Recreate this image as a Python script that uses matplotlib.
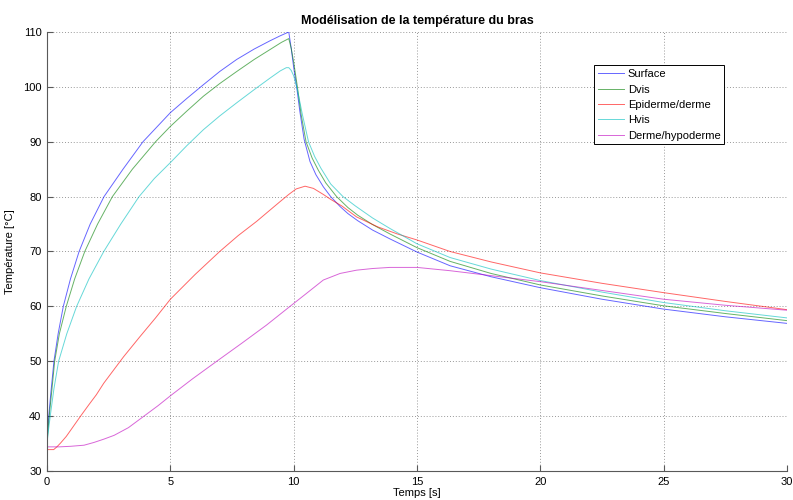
#!/usr/bin/env python3
"""
Modélisation de la température du bras - recreation of MATLAB-style figure
"""

import matplotlib
matplotlib.use("Agg")
import matplotlib.pyplot as plt

# values (time in s, temperature in degC)
t_surface = [0, 0.03, 0.07, 0.15, 0.28, 0.45, 0.66, 0.95, 1.3, 1.75, 2.31,
             3.08, 3.89, 5.0, 5.67, 6.34, 7.0, 7.69, 8.4, 9.04, 9.45, 9.8,
             9.9, 10.0, 10.12, 10.25, 10.42, 10.66, 10.9, 11.2, 11.5, 11.88,
             12.2, 12.6, 13.2, 13.9, 15.0, 16.34, 18.0, 20.0, 22.5, 25.0,
             27.5, 30.0]
T_surface = [35.0, 37.5, 40.0, 44.0, 50.0, 55.0, 60.0, 65.0, 70.0, 75.0, 80.0,
             85.0, 90.0, 95.3, 97.9, 100.4, 102.8, 105.0, 106.9, 108.4, 109.3,
             110.0, 107.0, 103.5, 100.0, 95.5, 90.5, 86.4, 84.0, 81.8, 80.0,
             78.2, 76.9, 75.6, 73.9, 72.3, 69.9, 67.4, 65.4, 63.4, 61.3, 59.5,
             58.1, 56.9]

t_dvis = [0, 0.04, 0.1, 0.18, 0.31, 0.5, 0.78, 1.12, 1.53, 2.05, 2.65, 3.46,
          4.4, 5.0, 5.67, 6.34, 7.0, 7.69, 8.4, 9.04, 9.5, 9.8, 9.9, 10.0,
          10.15, 10.3, 10.5, 10.75, 11.0, 11.3, 11.74, 12.2, 12.6, 13.2, 13.9,
          15.0, 16.34, 18.0, 20.0, 22.5, 25.0, 27.5, 30.0]
T_dvis = [35.0, 37.5, 40.5, 44.0, 50.0, 55.0, 60.0, 65.0, 70.0, 75.0, 80.0,
          85.0, 90.0, 92.8, 95.6, 98.3, 100.6, 102.8, 105.0, 106.8, 108.1,
          108.8, 107.0, 104.5, 100.0, 95.0, 90.0, 87.0, 84.8, 82.5, 80.0,
          78.0, 76.6, 74.9, 73.2, 70.7, 68.2, 66.0, 63.9, 61.9, 60.1, 58.7,
          57.4]

t_epi = [0, 0.27, 0.4, 0.55, 0.78, 1.0, 1.36, 1.7, 2.0, 2.3, 2.65, 3.1,
         3.77, 4.4, 5.0, 6.0, 7.0, 7.75, 8.5, 9.0, 9.45, 9.8, 10.1, 10.46,
         10.8, 11.2, 11.5, 11.95, 12.55, 13.4, 14.2, 15.0, 16.34, 18.0, 20.0,
         22.5, 25.0, 27.5, 30.0]
T_epi = [33.9, 33.9, 34.4, 35.1, 36.3, 37.7, 40.0, 42.1, 43.9, 46.0, 48.1,
         50.8, 54.5, 57.9, 61.3, 65.8, 70.0, 72.9, 75.5, 77.4, 79.1, 80.4,
         81.4, 81.9, 81.5, 80.4, 79.5, 78.3, 76.3, 74.5, 73.2, 72.1, 70.0,
         68.1, 66.1, 64.2, 62.5, 60.9, 59.4]

t_hvis = [0, 0.06, 0.13, 0.28, 0.47, 0.8, 1.2, 1.7, 2.3, 2.99, 3.73, 4.35,
          5.0, 5.67, 6.34, 7.0, 7.69, 8.4, 9.04, 9.45, 9.7, 9.8, 9.9, 10.0,
          10.15, 10.35, 10.6, 10.85, 11.1, 11.5, 12.0, 12.5, 13.2, 13.9, 15.0,
          16.34, 18.0, 20.0, 22.5, 25.0, 27.5, 30.0]
T_hvis = [35.0, 37.5, 40.0, 45.0, 50.0, 55.0, 60.0, 65.0, 70.0, 75.0, 80.0,
          83.3, 86.2, 89.3, 92.2, 94.7, 97.1, 99.5, 101.6, 102.9, 103.5, 103.5,
          103.0, 102.0, 99.5, 95.0, 90.0, 87.3, 85.2, 82.3, 80.0, 78.3, 76.1,
          74.2, 71.4, 68.9, 66.8, 64.7, 62.6, 60.7, 59.2, 57.9]

t_derme = [0, 0.5, 0.95, 1.5, 1.9, 2.3, 2.72, 3.3, 3.93, 4.5, 5.0, 5.9, 6.88,
           7.9, 8.9, 9.85, 10.5, 11.2, 11.88, 12.55, 13.2, 13.9, 15.0, 16.34,
           18.0, 20.0, 22.5, 25.0, 27.5, 30.0]
T_derme = [34.4, 34.4, 34.5, 34.7, 35.2, 35.8, 36.5, 37.9, 40.0, 41.9, 43.7,
           46.8, 50.0, 53.3, 56.6, 60.0, 62.3, 64.8, 66.0, 66.6, 66.9, 67.1,
           67.1, 66.5, 65.6, 64.5, 62.9, 61.3, 60.2, 59.3]

labels = ['Surface', 'Dvis', 'Epiderme/derme', 'Hvis', 'Derme/hypoderme']
# old MATLAB default colour order
colors = ['#0000ff', '#008000', '#ff0000', '#00bfbf', '#bf00bf']

plt.rcParams['font.family'] = ['Liberation Sans', 'DejaVu Sans']

fig = plt.figure(figsize=(7.93, 5.0), dpi=100)
ax = fig.add_axes([0.0593, 0.058, 0.9332, 0.878])

series = [(t_surface, T_surface), (t_dvis, T_dvis), (t_epi, T_epi),
          (t_hvis, T_hvis), (t_derme, T_derme)]
for (t, T), lab, col in zip(series, labels, colors):
    ax.plot(t, T, color=col, lw=0.7, alpha=0.6, label=lab)

ax.set_xlim(0, 30)
ax.set_ylim(30, 110)
ax.set_xticks(range(0, 31, 5))
ax.set_yticks(range(30, 111, 10))
ax.grid(True, linestyle=(0, (1, 2)), color='0.6', lw=0.7)

for side in ['top', 'right']:
    ax.spines[side].set_visible(False)
for side in ['left', 'bottom']:
    ax.spines[side].set_color('0.35')
ax.tick_params(direction='in', length=4, color='0.35', labelsize=8, pad=4)

ax.set_title('Modélisation de la température du bras', fontsize=9,
             fontweight='bold', pad=6)
ax.set_xlabel('Temps [s]', fontsize=8, labelpad=1)
ax.set_ylabel('Température [°C]', fontsize=8, labelpad=6)

leg = ax.legend(loc='upper left', bbox_to_anchor=(0.739, 0.924), fontsize=8,
                fancybox=False, framealpha=1, edgecolor='black',
                handlelength=2.4, labelspacing=0.48, borderpad=0.35,
                handletextpad=0.3, borderaxespad=0)
leg.get_frame().set_linewidth(0.7)

plt.savefig('out.png', dpi=100)
